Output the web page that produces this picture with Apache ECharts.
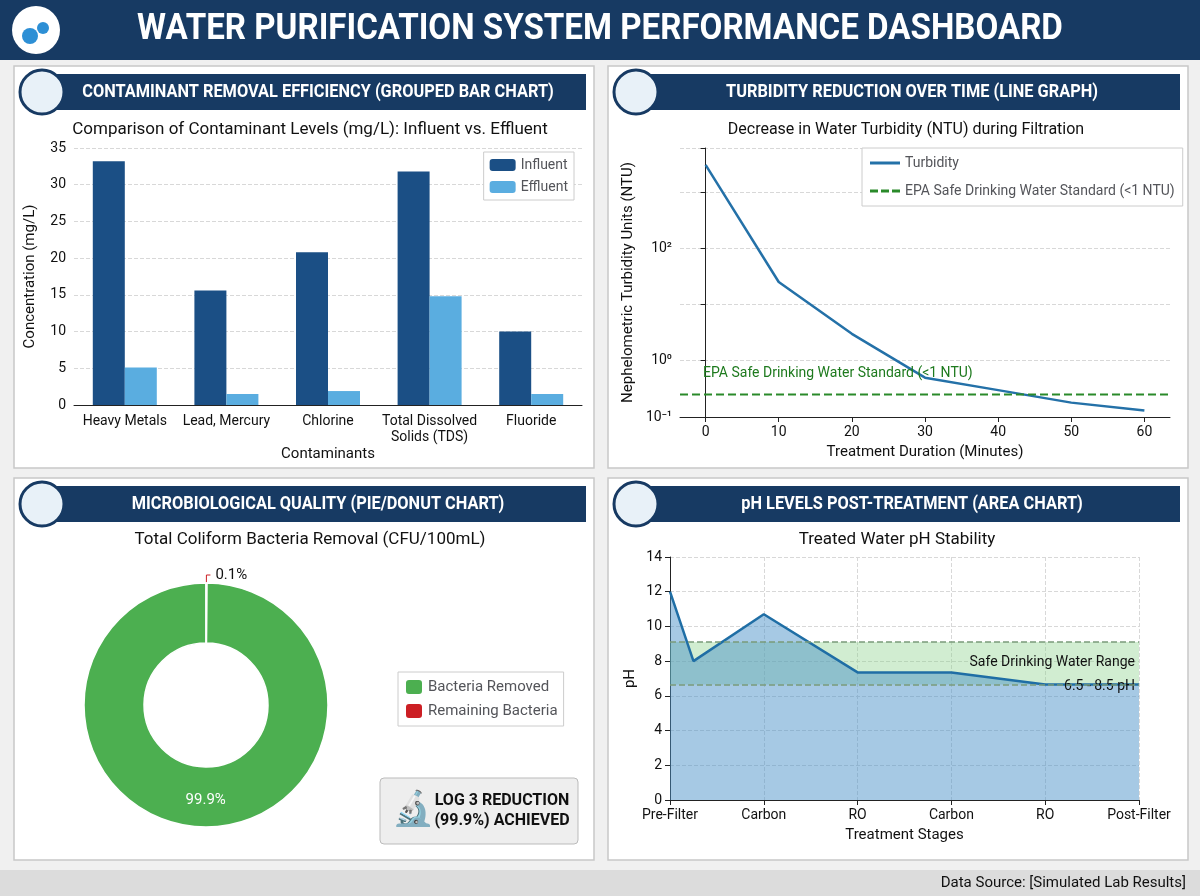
<!DOCTYPE html>
<html><head><meta charset="utf-8">
<script src="https://cdn.jsdelivr.net/npm/echarts@6/dist/echarts.min.js"></script>
<style>html,body{margin:0;padding:0;background:#f0f0f0}#c{width:1200px;height:896px}</style>
</head><body><div id="c"></div>
<script>
const contaminants = ['Heavy Metals','Lead, Mercury','Chlorine','Total Dissolved\nSolids (TDS)','Fluoride'];
const influent = [33.2,15.6,20.8,31.8,10.0];
const effluent = [5.1,1.5,1.9,14.8,1.5];
const turbMinutes = [0,10,20,30,40,50,60];
const turbidity = [3000,25,3,0.5,0.3,0.18,0.13];
const epaLine = 0.25;
const pieNames = ['Bacteria Removed','Remaining Bacteria'];
const pieValues = [99.9,0.1];
const phStagePos = [0,1,2,3,4,5];
const phStageLabels = ['Pre-Filter','Carbon','RO','Carbon','RO','Post-Filter'];
const phX = [0,0.25,1,2,3,4,5];
const phY = [12,8,10.7,7.35,7.35,6.65,6.65];
const safeLow = 6.65, safeHigh = 9.1;

const F = "'Roboto',sans-serif";
const NAVY = '#173a63';
const chart = echarts.init(document.getElementById('c'));

function panel(x,y,w,h,title){
  return [
    {type:'rect',shape:{x:x,y:y,width:w,height:h},style:{fill:'#fff',stroke:'#c8c8c8',lineWidth:1.5},z:-10},
    {type:'rect',shape:{x:x+18,y:y+8,width:w-26,height:36},style:{fill:NAVY},z:-9},
    {type:'circle',shape:{cx:x+28,cy:y+26,r:22},style:{fill:'#e8f1f8',stroke:NAVY,lineWidth:3},z:-8},
    {type:'text',x:x+w/2+14,y:y+26,scaleX:0.86,style:{text:title,fill:'#fff',font:'bold 19px '+F,align:'center',verticalAlign:'middle'},z:-8}
  ];
}
const T = (x,y,t,size,align,color)=>({type:'text',x:x,y:y,style:{text:t,fill:color||'#111',font:size+'px '+F,align:align||'center',verticalAlign:'middle'},z:5});

const graphics = [
  {type:'rect',shape:{x:0,y:0,width:1200,height:60},style:{fill:NAVY},z:-10},
  {type:'circle',shape:{cx:36,cy:30,r:24},style:{fill:'#fff'},z:-9},
  {type:'circle',shape:{cx:30,cy:36,r:8},style:{fill:'#2d8fd5'},z:-8},
  {type:'circle',shape:{cx:43,cy:28,r:6},style:{fill:'#2d8fd5'},z:-8},
  {type:'text',x:600,y:30,scaleX:0.92,style:{text:'WATER PURIFICATION SYSTEM PERFORMANCE DASHBOARD',fill:'#fff',font:'bold 36px '+F,align:'center',verticalAlign:'middle'}},
  {type:'rect',shape:{x:0,y:870,width:1200,height:26},style:{fill:'#dcdcdc'},z:-10},
  T(1186,883,'Data Source: [Simulated Lab Results]',15,'right'),
  ...panel(14,66,580,402,'CONTAMINANT REMOVAL EFFICIENCY (GROUPED BAR CHART)'),
  ...panel(608,66,580,402,'TURBIDITY REDUCTION OVER TIME (LINE GRAPH)'),
  ...panel(14,478,580,382,'MICROBIOLOGICAL QUALITY (PIE/DONUT CHART)'),
  ...panel(608,478,580,382,'pH LEVELS POST-TREATMENT (AREA CHART)'),
  T(310,130,'Comparison of Contaminant Levels (mg/L): Influent vs. Effluent',17),
  T(906,130,'Decrease in Water Turbidity (NTU) during Filtration',16),
  T(310,540,'Total Coliform Bacteria Removal (CFU/100mL)',17),
  T(897,540,'Treated Water pH Stability',17),
  T(1135,662,'Safe Drinking Water Range',14,'right'),
  T(1135,686,'6.5 - 8.5 pH',14,'right'),
  T(703,373,'EPA Safe Drinking Water Standard (<1 NTU)',14,'left','#1e7a1e'),
  {type:'rect',shape:{x:380,y:778,width:198,height:66,r:4},style:{fill:'#eeeeee',stroke:'#bbb',lineWidth:1},z:1},
  {type:'text',x:392,y:811,style:{text:'🔬',fill:NAVY,font:'34px sans-serif',verticalAlign:'middle'},z:2},
  {type:'text',x:502,y:811,style:{text:'LOG 3 REDUCTION\n(99.9%) ACHIEVED',fill:'#111',font:'bold 16px '+F,align:'center',verticalAlign:'middle',lineHeight:20},z:2}
];

const ax = {axisLine:{lineStyle:{color:'#222'}},axisTick:{lineStyle:{color:'#222'}},axisLabel:{color:'#111',fontSize:14,fontFamily:F},nameTextStyle:{color:'#111',fontSize:15,fontFamily:F}};
const split = {show:true,lineStyle:{type:'dashed',color:'#d8d8d8'}};

chart.setOption({
  animation:false,
  textStyle:{fontFamily:F},
  graphic:graphics,
  grid:[
    {left:74,right:618,top:148,bottom:491},
    {left:680,right:30,top:148,bottom:479},
    {left:670,right:61,top:557,bottom:96}
  ],
  legend:[
    {data:['Influent','Effluent'],orient:'vertical',right:626,top:152,itemWidth:26,itemHeight:12,borderColor:'#ccc',borderWidth:1,padding:6,backgroundColor:'#fff',textStyle:{fontSize:14,fontFamily:F}},
    {data:[{name:'Turbidity',icon:'path://M0,0H30V3H0Z'},{name:'EPA Safe Drinking Water Standard (<1 NTU)',icon:'path://M0,0H8V3H0ZM11,0H19V3H11ZM22,0H30V3H22Z'}],orient:'vertical',left:862,top:148,itemWidth:30,itemHeight:3,borderColor:'#ccc',borderWidth:1,padding:8,itemGap:14,backgroundColor:'#fff',textStyle:{fontSize:14,fontFamily:F}},
    {data:pieNames,orient:'vertical',left:398,top:672,itemWidth:18,itemHeight:16,borderColor:'#ccc',borderWidth:1,padding:6,itemGap:6,textStyle:{fontSize:15,fontFamily:F}}
  ],
  xAxis:[
    Object.assign({},ax,{gridIndex:0,type:'category',data:contaminants,name:'Contaminants',nameLocation:'middle',nameGap:42,axisTick:{show:false},axisLabel:Object.assign({},ax.axisLabel,{interval:0,lineHeight:16})}),
    Object.assign({},ax,{gridIndex:1,type:'value',min:-3.5,max:63.5,name:'Treatment Duration (Minutes)',nameLocation:'middle',nameGap:28,axisLabel:Object.assign({},ax.axisLabel,{customValues:[0,10,20,30,40,50,60]}),axisTick:{customValues:[0,10,20,30,40,50,60]},splitLine:{show:false}}),
    Object.assign({},ax,{gridIndex:2,type:'value',min:0,max:5,name:'Treatment Stages',nameLocation:'middle',nameGap:28,axisLabel:Object.assign({},ax.axisLabel,{customValues:phStagePos,formatter:v=>phStageLabels[Math.round(v)]}),axisTick:{customValues:phStagePos},splitLine:split})
  ],
  yAxis:[
    Object.assign({},ax,{gridIndex:0,type:'value',min:0,max:35,interval:5,name:'Concentration (mg/L)',nameLocation:'middle',nameGap:36,splitLine:split}),
    Object.assign({},ax,{gridIndex:1,type:'log',logBase:10,min:0.1,max:6000,name:'Nephelometric Turbidity Units (NTU)',nameLocation:'middle',nameGap:44,
      axisLabel:Object.assign({},ax.axisLabel,{formatter:v=>({0.1:'10⁻¹',1:'10⁰',100:'10²'})[v]||''}),splitLine:split}),
    Object.assign({},ax,{gridIndex:2,type:'value',min:0,max:14,interval:2,name:'pH',nameLocation:'middle',nameGap:32,splitLine:split})
  ],
  series:[
    {name:'Influent',type:'bar',xAxisIndex:0,yAxisIndex:0,data:influent,barWidth:32,barGap:'0%',itemStyle:{color:'#1b4f85'}},
    {name:'Effluent',type:'bar',xAxisIndex:0,yAxisIndex:0,data:effluent,barWidth:32,itemStyle:{color:'#5aade0'}},
    {name:'Turbidity',type:'line',xAxisIndex:1,yAxisIndex:1,data:turbMinutes.map((m,i)=>[m,turbidity[i]]),symbol:'none',lineStyle:{color:'#2471a8',width:2.5},itemStyle:{color:'#2471a8'}},
    {name:'EPA Safe Drinking Water Standard (<1 NTU)',type:'line',xAxisIndex:1,yAxisIndex:1,data:[[-3.5,epaLine],[63.5,epaLine]],symbol:'none',lineStyle:{color:'#2a8a2a',type:'dashed',width:2},itemStyle:{color:'#2a8a2a'}},
    {type:'line',xAxisIndex:2,yAxisIndex:2,data:phX.map((x,i)=>[x,phY[i]]),symbol:'none',lineStyle:{color:'#1f6ea5',width:2.5},areaStyle:{color:'rgba(74,144,200,0.7)'},
      markArea:{silent:true,itemStyle:{color:'rgba(140,210,140,0.4)'},data:[[{yAxis:safeLow},{yAxis:safeHigh}]]},
      markLine:{silent:true,symbol:'none',label:{show:false},lineStyle:{type:'dashed',color:'#7a9a7a',width:1.5},data:[{yAxis:safeLow},{yAxis:safeHigh}]}},
    {type:'pie',center:[206,705],radius:[62,122],startAngle:90,clockwise:false,
      data:pieNames.map((n,i)=>({name:n,value:pieValues[i],itemStyle:{color:['#4caf50','#cc1f24'][i]},
        label:i===0?{position:'inside',color:'#fff',formatter:'99.9%',fontSize:15}:{position:'outside',color:'#111',formatter:'0.1%',fontSize:15},
        labelLine:{show:i===1,length:8,length2:4,lineStyle:{color:'#cc1f24'}}})),
      itemStyle:{borderColor:'#fff',borderWidth:1.5}}
  ]
});
</script></body></html>
